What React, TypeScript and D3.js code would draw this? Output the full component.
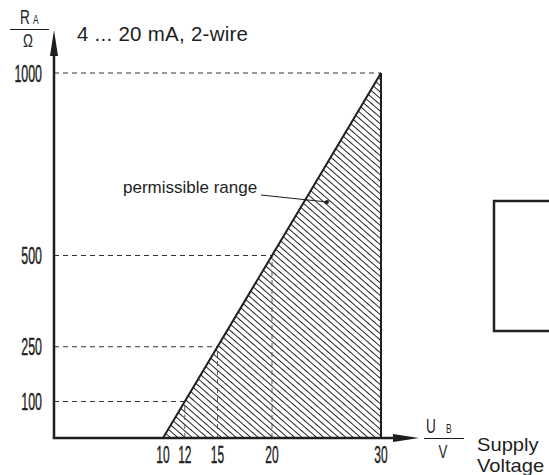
import React from "react";
import * as d3 from "d3";

const xTicks = [10, 12, 15, 20, 30];
const yTicks = [100, 250, 500, 1000];
const limitU = [10, 30];
const limitR = [0, 1000];
const title = "4 ... 20 mA, 2-wire";
const rangeLabel = "permissible range";
const xUnitLabel = ["Supply", "Voltage"];

const W = 549;
const H = 475;
const FONT = "'Liberation Sans', Arial, Helvetica, sans-serif";
const INK = "#1e1e1e";

export default function App() {
  const x = d3.scaleLinear().domain([0, 30]).range([54, 381]);
  const y = d3.scaleLinear().domain([0, 1000]).range([438, 73]);
  const rOfU = d3.scaleLinear().domain(limitU).range(limitR);
  const uOfR = d3.scaleLinear().domain(limitR).range(limitU);

  const area = d3
    .line<[number, number]>()
    .x((d) => x(d[0]))
    .y((d) => y(d[1]));
  const poly: [number, number][] = [
    [limitU[0], limitR[0]],
    [limitU[1], limitR[1]],
    [limitU[1], limitR[0]],
  ];

  const condensed = (cx: number, cy: number, s: number) =>
    `translate(${cx},${cy}) scale(${s},1)`;

  const x0 = x(0);
  const yb = y(0);

  return (
    <svg
      width={W}
      height={H}
      style={{ position: "absolute", left: 0, top: 0, background: "#fff" }}
      fontFamily={FONT}
    >
      <defs>
        <pattern
          id="hatch"
          patternUnits="userSpaceOnUse"
          width={12}
          height={4.8}
          patternTransform="rotate(41)"
        >
          <line x1={0} y1={2.4} x2={12} y2={2.4} stroke={INK} strokeWidth={1} />
        </pattern>
      </defs>
      <rect width={W} height={H} fill="#fff" />

      {/* hatched region */}
      <path d={area(poly) + "Z"} fill="url(#hatch)" stroke="none" />

      {/* horizontal dashed guides */}
      {yTicks.map((r) => {
        const uEnd = r >= limitR[1] ? limitU[1] : uOfR(r);
        return (
          <line
            key={"h" + r}
            x1={x0}
            x2={x(uEnd)}
            y1={y(r)}
            y2={y(r)}
            stroke="#333"
            strokeWidth={1}
            strokeDasharray="5,4"
          />
        );
      })}
      {/* vertical dashed guides */}
      {xTicks
        .filter((u) => u > limitU[0] && u < limitU[1])
        .map((u) => (
          <line
            key={"v" + u}
            x1={x(u)}
            x2={x(u)}
            y1={yb}
            y2={y(rOfU(u))}
            stroke="#555"
            strokeWidth={1}
            strokeDasharray="5,4"
          />
        ))}

      {/* boundary lines */}
      <line
        x1={x(limitU[0])}
        y1={y(limitR[0])}
        x2={x(limitU[1])}
        y2={y(limitR[1])}
        stroke={INK}
        strokeWidth={2}
      />
      <line
        x1={x(limitU[1])}
        y1={y(0)}
        x2={x(limitU[1])}
        y2={y(limitR[1])}
        stroke={INK}
        strokeWidth={2}
      />

      {/* axes */}
      <line x1={x0} y1={yb} x2={x0} y2={50} stroke={INK} strokeWidth={2.5} />
      <path d={`M${x0 - 4},${56} L${x0},${30} L${x0 + 4},${56} Z`} fill={INK} />
      <line x1={x0 - 1.25} y1={yb} x2={396} y2={yb} stroke={INK} strokeWidth={2.5} />
      <path d={`M${393},${yb - 4} L${419},${yb} L${393},${yb + 4} Z`} fill={INK} />

      {/* y tick labels */}
      {yTicks.map((r) => (
        <text
          key={"yl" + r}
          transform={condensed(42, y(r) + 8.5, 0.54)}
          textAnchor="end"
          fontSize={23}
          fill={INK}
          stroke={INK}
          strokeWidth={0.4}
        >
          {r}
        </text>
      ))}
      {/* x tick labels */}
      {xTicks.map((u) => (
        <text
          key={"xl" + u}
          transform={condensed(x(u), 463, 0.52)}
          textAnchor="middle"
          fontSize={23}
          fill={INK}
          stroke={INK}
          strokeWidth={0.4}
        >
          {u}
        </text>
      ))}

      {/* y unit fraction */}
      <text transform={condensed(20, 24, 0.68)} fontSize={20} fill={INK}>
        R
      </text>
      <text transform={condensed(33, 24, 0.7)} fontSize={12} fill={INK}>
        A
      </text>
      <line x1={10} x2={49} y1={29.5} y2={29.5} stroke={INK} strokeWidth={1.2} />
      <text transform={condensed(28, 47, 0.7)} fontSize={19} textAnchor="middle" fill={INK}>
        Ω
      </text>

      {/* x unit fraction */}
      <text transform={condensed(426, 433, 0.68)} fontSize={20} fill={INK}>
        U
      </text>
      <text transform={condensed(446, 433, 0.7)} fontSize={12} fill={INK}>
        B
      </text>
      <line x1={424} x2={464} y1={438.5} y2={438.5} stroke={INK} strokeWidth={1.2} />
      <text transform={condensed(443, 458, 0.7)} fontSize={19} textAnchor="middle" fill={INK}>
        V
      </text>
      <text transform={`translate(477,451) scale(1.12,1)`} fontSize={18} fill={INK}>
        {xUnitLabel[0]}
      </text>
      <text transform={`translate(477,471.5) scale(1.12,1)`} fontSize={18} fill={INK}>
        {xUnitLabel[1]}
      </text>

      {/* title */}
      <text x={77} y={41} fontSize={20.5} fill={INK} textLength={171} lengthAdjust="spacing">
        {title}
      </text>

      {/* permissible range annotation */}
      <text x={123} y={193} fontSize={17} fill={INK}>
        {rangeLabel}
      </text>
      <line x1={261} y1={195} x2={327} y2={202} stroke={INK} strokeWidth={1} />
      <circle cx={327} cy={202} r={2} fill={INK} />

      {/* box on right */}
      <rect x={494} y={201} width={80} height={130} fill="none" stroke="#222" strokeWidth={2.5} />
    </svg>
  );
}
